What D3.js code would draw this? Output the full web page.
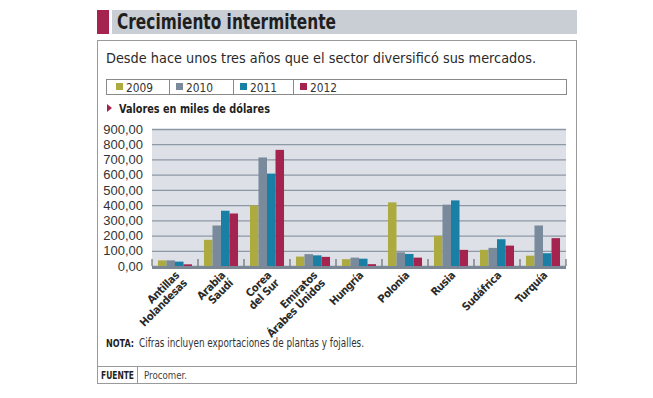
<!DOCTYPE html>
<html>
<head>
<meta charset="utf-8">
<script src="https://cdn.jsdelivr.net/npm/d3@7"></script>
<style>
  html, body { margin: 0; padding: 0; background: #fff; }
  svg { display: block; }
  .narrow { font-family: "Liberation Sans Narrow", "DejaVu Sans Condensed", "Roboto", sans-serif; }
</style>
</head>
<body>
<div id="chart"></div>
<script>
(function(d3) {

  // data (miles de dolares)
  var paises = [
    ['Antillas', 'Holandesas'], ['Arabia', 'Saudí'], ['Corea', 'del Sur'],
    ['Emiratos', 'Árabes Unidos'], ['Hungría'], ['Polonia'], ['Rusia'],
    ['Sudáfrica'], ['Turquía']
  ];
  var years = ['2009', '2010', '2011', '2012'];
  var v2009 = [37, 172, 398, 62, 45, 418, 198, 106, 68];
  var v2010 = [37, 266, 713, 78, 55, 90, 403, 119, 266];
  var v2011 = [29, 363, 607, 70, 48, 79, 431, 176, 84];
  var v2012 = [11, 345, 763, 60, 12, 55, 106, 134, 183];
  var yTicks = [0, 100, 200, 300, 400, 500, 600, 700, 800, 900];

  var series = [v2009, v2010, v2011, v2012];
  var colors = ['#adab3f', '#788a9b', '#1a7fa5', '#a4244f'];

  var W = 653, H = 398;
  var svg = d3.select('#chart').append('svg')
      .attr('width', W).attr('height', H)
      .classed('narrow', true);

  // squeeze a text to the width it has in the picture (fonts there are condensed)
  var fit = function(sel, w) {
    return sel.attr('textLength', w).attr('lengthAdjust', 'spacingAndGlyphs');
  };

  // header
  svg.append('rect').attr('x', 97).attr('y', 10).attr('width', 12).attr('height', 24).attr('fill', '#a4244f');
  svg.append('rect').attr('x', 112).attr('y', 10).attr('width', 465).attr('height', 24).attr('fill', '#c9cdd4');
  fit(svg.append('text').attr('x', 117).attr('y', 29)
      .attr('font-size', 21).attr('font-weight', 'bold').attr('fill', '#1f1f1f')
      .text('Crecimiento intermitente'), 219);

  // frame
  svg.append('rect').attr('x', 97.5).attr('y', 40.5).attr('width', 479).attr('height', 343)
      .attr('fill', 'none').attr('stroke', '#9a9a9a');
  fit(svg.append('text').attr('x', 106).attr('y', 63)
      .attr('font-size', 14.5).attr('fill', '#2a2a2a')
      .text('Desde hace unos tres años que el sector diversificó sus mercados.'), 430);

  // legend
  var legX = [106, 169, 233, 293, 567];
  svg.append('rect').attr('x', 106.5).attr('y', 79.5).attr('width', 460).attr('height', 15)
      .attr('fill', 'none').attr('stroke', '#8a8a8a');
  var leg = svg.selectAll('g.leg').data(years).enter().append('g')
      .attr('class', 'leg')
      .attr('transform', function(d, i) { return 'translate(' + legX[i] + ',79)'; });
  leg.filter(function(d, i) { return i > 0; }).append('line')
      .attr('x1', 0.5).attr('x2', 0.5).attr('y1', 0).attr('y2', 16).attr('stroke', '#8a8a8a');
  leg.append('rect').attr('x', function(d, i) { return i ? 7 : 10; }).attr('y', 4)
      .attr('width', 7).attr('height', 7)
      .attr('fill', function(d, i) { return colors[i]; });
  fit(leg.append('text').attr('x', function(d, i) { return i ? 17 : 20; }).attr('y', 12.5)
      .attr('font-size', 13).attr('fill', '#333').text(function(d) { return d; }), 27);

  svg.append('path').attr('d', 'M107,104 L112,108 L107,112 Z').attr('fill', '#a4244f');
  fit(svg.append('text').attr('x', 119).attr('y', 113)
      .attr('font-size', 12.5).attr('font-weight', 'bold').attr('fill', '#1f1f1f')
      .text('Valores en miles de dólares'), 151);

  // plot
  var px0 = 152, px1 = 566, pyTop = 129, pyBase = 266;
  var x = d3.scaleBand().domain(d3.range(paises.length)).range([px0, px1])
      .paddingInner(0.26).paddingOuter(0.13);
  var xs = d3.scaleBand().domain(years).range([0, x.bandwidth()]);
  var y = d3.scaleLinear().domain([0, 900]).range([pyBase, pyTop]);

  svg.append('rect').attr('x', px0).attr('y', pyTop).attr('width', px1 - px0).attr('height', pyBase - pyTop)
      .attr('fill', '#dde0e6');

  var es = d3.formatLocale({ decimal: ',', thousands: '.', grouping: [3], currency: ['', ''] });
  var yAxis = d3.axisLeft(y).tickValues(yTicks).tickSize(-(px1 - px0)).tickPadding(9)
      .tickFormat(es.format('.2f'));
  var ga = svg.append('g').attr('transform', 'translate(' + px0 + ',0)').call(yAxis);
  ga.select('.domain').remove();
  ga.selectAll('.tick line').attr('stroke', '#8c98a6').attr('stroke-width', 1.3);
  ga.selectAll('.tick text').attr('font-size', 13).attr('fill', '#333')
      .attr('font-family', null);

  var groups = svg.selectAll('g.pais').data(paises).enter().append('g')
      .attr('class', 'pais')
      .attr('transform', function(d, i) { return 'translate(' + x(i) + ',0)'; });
  groups.selectAll('rect').data(function(d, i) {
    return years.map(function(yr, k) { return { year: yr, k: k, v: series[k][i] }; });
  }).enter().append('rect')
      .attr('x', function(d) { return xs(d.year); })
      .attr('y', function(d) { return y(d.v); })
      .attr('width', xs.bandwidth())
      .attr('height', function(d) { return pyBase - y(d.v); })
      .attr('fill', function(d) { return colors[d.k]; });

  // base line and category ticks
  svg.append('rect').attr('x', px0).attr('y', pyBase).attr('width', px1 - px0).attr('height', 3)
      .attr('fill', '#7b8795');
  svg.selectAll('line.ct').data(d3.range(paises.length + 1)).enter().append('line')
      .attr('class', 'ct')
      .attr('x1', function(i) { return px0 + i * x.step(); })
      .attr('x2', function(i) { return px0 + i * x.step(); })
      .attr('y1', pyBase - 7).attr('y2', pyBase)
      .attr('stroke', '#555').attr('stroke-width', 1);

  var labels = svg.selectAll('text.xl').data(paises).enter().append('text')
      .attr('class', 'xl')
      .attr('text-anchor', 'end')
      .attr('font-size', 11).attr('font-weight', 'bold').attr('fill', '#2a2a2a')
      .attr('letter-spacing', -0.3)
      .attr('transform', function(d, i) {
        return 'translate(' + (x(i) + x.bandwidth() / 2 + 5) + ',' + (pyBase + 10) + ') rotate(-45)';
      });
  labels.selectAll('tspan').data(function(d) { return d; }).enter().append('tspan')
      .attr('x', 0).attr('dy', function(d, k) { return k ? '1em' : 0; })
      .text(function(d) { return d; });

  // footer
  fit(svg.append('text').attr('x', 106).attr('y', 347).attr('font-size', 10.5)
      .attr('font-weight', 'bold').attr('fill', '#1f1f1f').text('NOTA:'), 28);
  fit(svg.append('text').attr('x', 139).attr('y', 347).attr('font-size', 11.5).attr('fill', '#333')
      .text('Cifras incluyen exportaciones de plantas y fojalles.'), 225);

  svg.append('line').attr('x1', 97).attr('x2', 577).attr('y1', 366.5).attr('y2', 366.5).attr('stroke', '#9a9a9a');
  svg.append('line').attr('x1', 137.5).attr('x2', 137.5).attr('y1', 366).attr('y2', 384).attr('stroke', '#9a9a9a');
  fit(svg.append('text').attr('x', 101).attr('y', 379).attr('font-size', 10.5).attr('font-weight', 'bold')
      .attr('fill', '#1f1f1f').text('FUENTE'), 33);
  fit(svg.append('text').attr('x', 144).attr('y', 379).attr('font-size', 10.5).attr('fill', '#444')
      .text('Procomer.'), 43);

}(d3));
</script>
</body>
</html>
